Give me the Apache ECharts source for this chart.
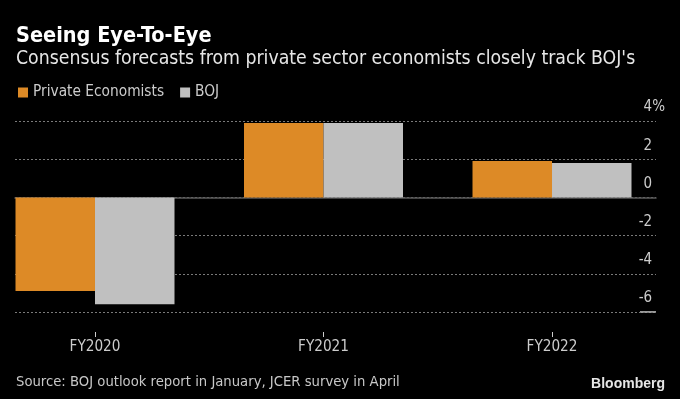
<!DOCTYPE html>
<html>
<head>
<meta charset="utf-8">
<script src="https://cdn.jsdelivr.net/npm/echarts@6/dist/echarts.min.js"></script>
<style>
  html, body { margin: 0; padding: 0; background: #000; }
  #chart { width: 680px; height: 399px; }
</style>
</head>
<body>
<div id="chart"></div>
<script>
const categories = ["FY2020", "FY2021", "FY2022"];
const privateEconomists = [-4.9, 3.9, 1.9];
const boj = [-5.6, 3.9, 1.8];
const yTicks = [-6, -4, -2, 0, 2, 4];

const FONT = "'DejaVu Sans Condensed', 'DejaVu Sans', sans-serif";

// bars sit on a value x axis: category i is drawn at x = i
const catIndex = categories.map((c, i) => i);

let chart = echarts.init(document.getElementById("chart"));
chart.setOption({
  backgroundColor: "#000",
  animation: false,
  title: [
    {
      text: "Seeing Eye-To-Eye",
      left: 11,
      top: 20,
      textStyle: { color: "#fff", fontFamily: FONT, fontWeight: "bold", fontSize: 21.5 },
    },
    {
      text: "Consensus forecasts from private sector economists closely track BOJ's",
      left: 11,
      top: 44,
      textStyle: { color: "#e6e6e6", fontFamily: FONT, fontWeight: "normal", fontSize: 19.3 },
    },
    {
      text: "Source: BOJ outlook report in January, JCER survey in April",
      left: 11,
      top: 370,
      textStyle: { color: "#c8c8c8", fontFamily: FONT, fontWeight: "normal", fontSize: 14.7 },
    },
    {
      text: "Bloomberg",
      right: 10,
      top: 372,
      textStyle: { color: "#e6e6e6", fontFamily: "'Liberation Sans', Arial, sans-serif", fontWeight: "bold", fontSize: 14 },
    },
  ],
  legend: {
    left: 13,
    top: 80,
    icon: "rect",
    itemWidth: 10,
    itemHeight: 10,
    itemGap: 16,
    data: ["Private Economists", "BOJ"],
    textStyle: { color: "#cccccc", fontFamily: FONT, fontSize: 15.3 },
  },
  grid: [
    { left: 15, right: 24, top: 121, bottom: 87 },
    { left: 15, right: 24, top: 121, bottom: 87 },
  ],
  xAxis: [
    {
      gridIndex: 0,
      type: "category",
      data: categories,
      axisLine: { show: true, onZero: true, lineStyle: { color: "#5a5a5a", width: 1.5 } },
      axisTick: { show: false },
      axisLabel: { show: false },
      splitLine: { show: false },
    },
    {
      gridIndex: 1,
      type: "value",
      min: -0.3501,
      max: 2.4551,
      offset: 20,
      splitLine: { show: false },
      axisLine: { show: false, onZero: false },
      axisTick: {
        show: true,
        length: 5,
        customValues: catIndex,
        lineStyle: { color: "#cccccc" },
      },
      axisLabel: {
        color: "#cccccc",
        fontFamily: FONT,
        fontSize: 15.2,
        margin: 8,
        customValues: catIndex,
        formatter: (v) => categories[Math.round(v)],
      },
    },
  ],
  yAxis: [
    {
      gridIndex: 0,
      type: "value",
      position: "right",
      min: yTicks[0],
      max: yTicks[yTicks.length - 1],
      interval: 2,
      axisLine: { show: false },
      axisTick: { show: false },
      splitLine: { show: true, lineStyle: { color: "#7a7a7a", type: [2, 2], width: 1 } },
      axisLabel: {
        color: "#cccccc",
        fontFamily: FONT,
        fontSize: 15,
        align: "right",
        verticalAlign: "bottom",
        margin: 9,
        padding: [0, 0, 6, 0],
        formatter: (v) => (v === 4 ? v + "{p|%}" : v + "{h|%}"),
        rich: {
          p: { color: "#cccccc", fontFamily: FONT, fontSize: 15 },
          h: { color: "rgba(0,0,0,0)", fontFamily: FONT, fontSize: 15 },
        },
      },
    },
    {
      gridIndex: 1,
      type: "value",
      min: yTicks[0],
      max: yTicks[yTicks.length - 1],
      interval: 2,
      show: false,
      splitLine: { show: false },
    },
  ],
  graphic: [
    {
      type: "line",
      shape: { x1: 640, y1: 312, x2: 656, y2: 312 },
      style: { stroke: "#cccccc", lineWidth: 1.5 },
    },
  ],
  series: [
    {
      name: "Private Economists",
      type: "bar",
      xAxisIndex: 1,
      yAxisIndex: 1,
      data: privateEconomists.map((v, i) => [catIndex[i], v]),
      barWidth: 79.5,
      barGap: "0%",
      itemStyle: { color: "#dd8a26" },
    },
    {
      name: "BOJ",
      type: "bar",
      xAxisIndex: 1,
      yAxisIndex: 1,
      data: boj.map((v, i) => [catIndex[i], v]),
      barWidth: 79.5,
      barGap: "0%",
      itemStyle: { color: "#c0c0c0" },
    },
  ],
});
</script>
</body>
</html>
